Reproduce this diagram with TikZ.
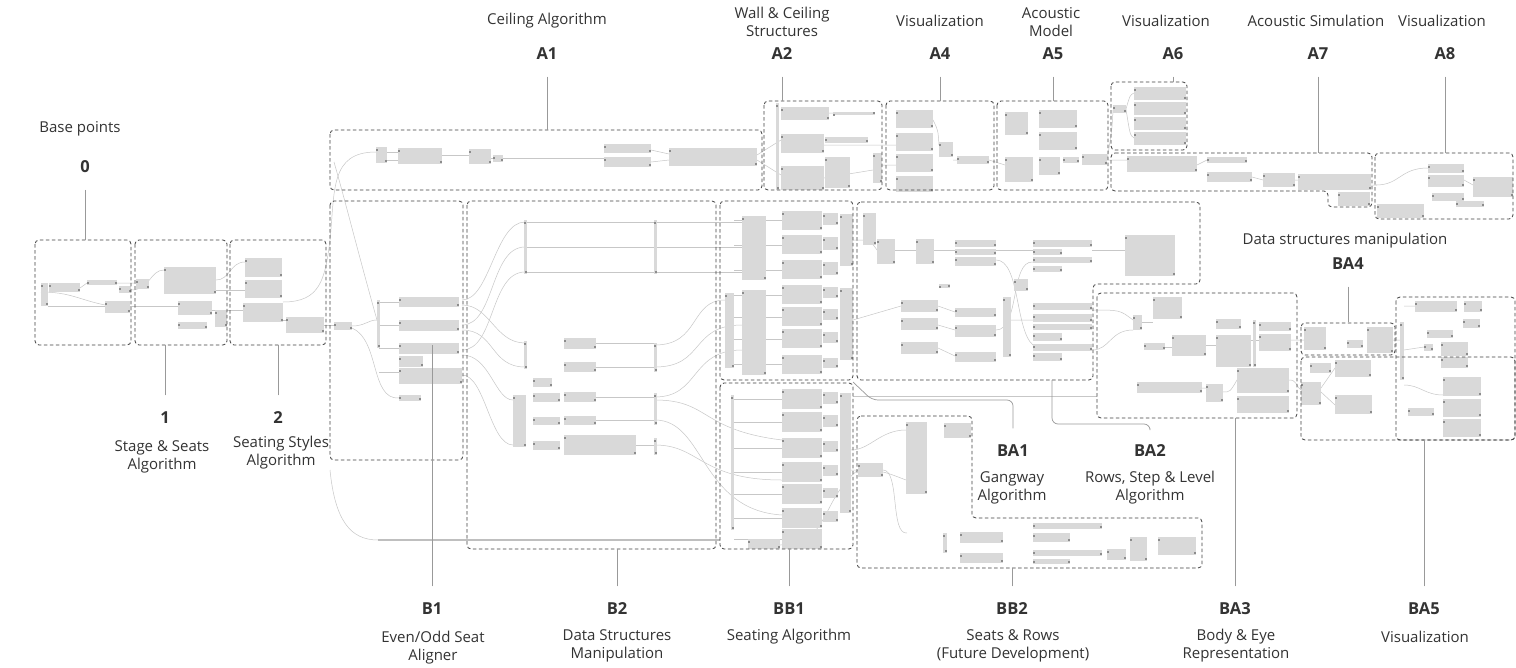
\documentclass[tikz,border=0pt]{standalone}
\usepackage{fontspec}
\setmainfont{Open Sans}
\usetikzlibrary{positioning}
\definecolor{ink}{HTML}{333333}
\definecolor{blockgray}{HTML}{D9D9D9}

\begin{document}
\begin{tikzpicture}[x=1pt,y=-1pt,
	grp/.style={draw=black!75,line width=0.8pt,dash pattern=on 3.5pt off 2.5pt,rounded corners=4pt},
	comp/.style={fill=blockgray},
	port/.style={fill=black!45},
	wire/.style={draw=black!22,line width=0.5pt},
	lead/.style={draw=black!40,line width=0.7pt},
	tag/.style={font=\fontsize{16.5}{18}\selectfont\bfseries,text=ink,inner xsep=0pt,inner ysep=16.5pt},
	note/.style={font=\fontsize{15}{18}\selectfont,text=ink,align=center,inner sep=0pt}]

	\fill[white] (0,0) rectangle (1516,667);
	\useasboundingbox (0,0) rectangle (1516,667);

	% wires
	\draw[wire] (41,292) .. controls (70,292) and (80,300) .. (105,305);
	\draw[wire] (48,306) -- (178,306);
	\draw[wire] (80,288) -- (87,283) (117,283) -- (136,283);
	\draw[wire] (131,290) .. controls (150,290) and (150,270) .. (164,270);
	\draw[wire] (216,280) .. controls (230,280) and (230,262) .. (245,262);
	\draw[wire] (216,290) -- (245,290) (212,310) -- (243,310) (283,320) -- (286,320) (324,325) -- (334,325);
	\draw[wire] (283,302) .. controls (320,302) and (325,280) .. (330,240) .. controls (335,190) and (330,152) .. (376,152);
	\draw[wire] (334,162) .. controls (345,200) and (360,260) .. (377,320);
	\draw[wire] (352,326) .. controls (365,326) and (368,320) .. (377,320);
	\draw[wire] (352,328) .. controls (380,340) and (370,400) .. (399,398);
	\draw[wire] (379,302) -- (399,302) (379,325) -- (399,325) (379,348) -- (399,348) (379,372) -- (399,372);
	\draw[wire] (387,152) -- (398,152) (387,160) -- (398,160) (442,155) -- (469,155) (491,158) -- (604,158);
	\draw[wire] (651,150) -- (669,154) (651,162) -- (669,160) (757,155) -- (781,140) (757,160) -- (781,175);
	\draw[wire] (829,113) -- (833,113) (824,145) -- (896,145) (824,178) -- (873,170) (882,165) -- (896,165);
	\draw[wire] (933,120) .. controls (938,130) .. (939,145) (953,160) -- (957,160) (989,160) -- (1005,165);
	\draw[wire] (1107,160) -- (1127,160) (1107,160) .. controls (1112,130) .. (1113,110);
	\draw[wire] (1126,109) .. controls (1130,95) .. (1134,93) (1126,109) .. controls (1130,135) .. (1134,138);
	\draw[wire] (1197,165) -- (1207,160) (1252,177) -- (1263,180) (1295,180) -- (1298,180) (1371,185) -- (1377,185);
	\draw[wire] (1376,185) .. controls (1400,185) and (1400,168) .. (1428,168) (1464,180) -- (1473,185);
	\draw[wire] (462,300) .. controls (490,300) and (495,222) .. (525,222);
	\draw[wire] (462,325) .. controls (495,325) and (490,247) .. (525,247);
	\draw[wire] (462,350) .. controls (495,350) and (490,272) .. (525,272);
	\draw[wire] (462,305) .. controls (490,305) and (495,343) .. (525,343);
	\draw[wire] (462,330) .. controls (495,330) and (490,367) .. (525,367);
	\draw[wire] (462,355) .. controls (490,355) and (495,400) .. (513,400);
	\draw[wire] (462,375) .. controls (485,375) and (490,445) .. (513,445);
	\draw[wire] (525,222) -- (742,222) (525,247) -- (742,247) (525,272) -- (742,272);
	\draw[wire] (596,343) -- (655,343) (596,367) -- (655,367) (596,397) -- (655,397) (596,420) -- (655,420) (636,445) -- (655,445);
	\draw[wire] (655,345) .. controls (700,345) and (690,300) .. (725,300);
	\draw[wire] (655,367) .. controls (705,367) and (690,325) .. (742,325);
	\draw[wire] (655,397) .. controls (700,397) and (690,350) .. (742,350);
	\draw[wire] (655,445) .. controls (700,445) and (700,480) .. (782,480);
	\draw[wire] (655,400) .. controls (710,400) and (700,430) .. (782,440);
	\draw[wire] (655,420) .. controls (705,420) and (700,510) .. (782,515);
	\draw[wire] (330,470) .. controls (335,520) and (350,540) .. (378,540);
	\draw[black!25,line width=2pt] (378,540) -- (720,540);
	\foreach \y in {220,245,270,295,317,339,364,399,422,448,472,494,518,539}
		\draw[wire] (734,\y) -- (782,\y);
	\draw[wire] (853,240) .. controls (870,240) .. (877,250) (853,320) -- (901,306);
	\draw[wire] (851,450) .. controls (870,450) and (880,430) .. (906,430);
	\draw[wire] (851,470) .. controls (880,470) .. (906,480);
	\draw[wire] (883,470) .. controls (900,470) and (890,535) .. (907,533);
	\draw[wire] (780,545) .. controls (830,545) and (820,500) .. (858,470);
	\draw[wire] (853,396) -- (1097,396);
	\draw[wire] (895,250) -- (916,250) (934,250) -- (955,250) (996,250) -- (1033,250) (1092,250) -- (1125,250);
	\draw[wire] (938,306) -- (955,312) (938,325) -- (955,330) (938,348) -- (955,356) (1011,320) -- (1033,320);
	\draw[wire] (996,260) .. controls (1020,260) and (1015,330) .. (1033,345);
	\draw[wire] (996,330) .. controls (1020,330) and (1010,260) .. (1033,262);
	\draw[wire] (1092,350) .. controls (1110,350) and (1110,330) .. (1133,330);
	\draw[wire] (1092,310) .. controls (1120,310) .. (1133,320);
	\draw[wire] (1142,322) -- (1153,322) (1165,347) -- (1172,347) (1206,345) -- (1216,345) (1251,340) -- (1259,340);
	\draw[wire] (1202,388) -- (1206,388) (1223,392) .. controls (1230,392) .. (1237,380);
	\draw[wire] (1289,380) .. controls (1297,380) and (1295,385) .. (1301,390) (1291,340) -- (1304,340);
	\draw[wire] (1393,340) -- (1400,340) (1404,306) -- (1415,306) (1404,350) -- (1424,347);
	\draw[wire] (1404,385) .. controls (1420,385) and (1425,395) .. (1443,395);
	\draw[wire] (1321,392) -- (1335,405) (1321,388) -- (1335,368);

	% components
	\foreach \a/\b/\c/\d in {
		41/283/48/306, 49/283/80/292, 87/280/117/285, 105/301/130/313, 119/286/131/293,
		136/279/149/289, 164/267/216/294, 178/301/212/315, 178/322/207/329, 215/310/227/327,
		245/258/282/277, 245/280/282/298, 243/303/283/322, 286/317/324/333, 334/322/352/330,
		399/297/459/307, 399/320/459/331, 399/343/459/354, 399/356/423/367, 399/368/462/384, 399/395/421/401, 377/300/380/348,
		376/147/387/163, 398/148/442/164, 469/149/491/164, 493/155/503/162, 604/144/651/153, 604/157/651/167, 669/148/757/166,
		781/107/829/120, 833/112/875/115, 781/134/824/153, 781/166/824/190, 825/137/868/143, 825/157/850/188, 873/153/882/183, 776/103/779/190,
		896/110/933/128, 896/133/933/151, 896/154/933/172, 896/176/933/192, 939/142/953/157, 957/156/989/164,
		1005/112/1028/135, 1039/110/1077/128, 1039/132/1077/150, 1005/157/1033/182, 1039/157/1060/175, 1063/157/1079/163, 1082/154/1107/165,
		1134/87/1186/100, 1134/102/1186/115, 1134/117/1186/130, 1134/132/1186/145, 1113/105/1126/113,
		1127/156/1197/172, 1207/157/1247/163, 1207/172/1252/182, 1263/173/1295/187, 1298/174/1371/190, 1338/192/1370/206,
		1428/164/1464/173, 1428/175/1464/187, 1432/193/1464/201, 1473/177/1513/197, 1377/204/1424/218, 1456/201/1484/207,
		564/338/596/349, 564/362/596/372, 533/378/552/387, 513/395/526/447, 533/393/560/402, 533/417/560/425, 533/441/560/450,
		564/392/596/402, 564/416/596/425, 564/435/636/455, 524/220/527/274, 654/220/657/274, 524/341/527/369,
		654/343/657/372, 654/393/657/425, 654/438/657/455,
		742/216/766/280, 742/290/766/375, 725/293/734/368, 782/211/822/230, 782/235/822/254, 782/260/822/279,
		782/285/822/304, 782/307/822/326, 782/329/822/348, 782/355/822/374, 823/213/838/225, 823/237/838/250,
		823/262/838/275, 823/287/838/298, 823/309/838/320, 823/332/838/343, 823/358/838/368, 840/214/853/266, 840/288/853/360,
		782/389/822/409, 782/412/822/432, 782/438/822/458, 782/462/822/482, 782/484/822/504, 782/508/822/528, 782/529/822/549,
		823/392/838/404, 823/415/838/427, 823/441/838/452, 823/465/838/476, 823/488/838/498, 823/511/838/522,
		840/393/851/513, 748/539/780/549, 731/395/734/530,
		863/213/876/245, 877/239/895/264, 916/239/934/264, 955/240/996/247, 955/249/996/255, 955/257/996/266,
		1033/240/1092/247, 1033/249/1062/255, 1033/257/1092/263, 1033/266/1062/272, 1125/235/1175/276,
		901/300/938/312, 901/318/938/330, 901/342/938/354, 955/308/996/317, 955/325/996/337, 955/352/996/362,
		1003/297/1011/357, 1033/303/1092/310, 1033/314/1092/322, 1033/324/1092/330, 1033/333/1062/341,
		1033/344/1092/351, 1033/353/1062/361, 1014/279/1028/291, 939/284/950/288,
		906/422/927/494, 944/423/971/438, 858/463/883/477, 960/532/1003/543, 960/553/1003/563, 1033/523/1102/529,
		1033/533/1070/542, 1033/550/1102/556, 1033/559/1070/564, 1130/537/1147/561, 1158/537/1196/555, 1107/549/1126/560, 943/533/947/553,
		1153/297/1182/319, 1133/315/1142/330, 1144/343/1165/350, 1172/335/1206/356, 1216/319/1241/329, 1216/335/1251/367,
		1259/322/1291/331, 1259/334/1291/351, 1137/382/1202/393, 1206/384/1223/402, 1237/368/1289/393, 1237/396/1289/413, 1253/320/1256/367,
		1304/327/1326/350, 1367/327/1393/353, 1347/340/1363/348,
		1301/382/1321/405, 1310/363/1331/373, 1335/360/1371/377, 1335/395/1372/414,
		1415/301/1457/312, 1464/301/1482/312, 1463/319/1480/328, 1427/330/1453/338, 1424/344/1433/351, 1441/342/1468/356,
		1441/357/1468/368, 1443/377/1481/396, 1443/399/1481/417, 1443/419/1481/437, 1408/408/1434/416, 1400/322/1404/380}
	{
		\fill[comp] (\a,\b) rectangle (\c,\d);
		\fill[port] (\a,\b+1.5) rectangle ++(2,2);
		\fill[port] (\c-2,\d-3.5) rectangle ++(2,2);
	}

	% groups
	\draw[grp] (35,240) rectangle (131,345);
	\draw[grp] (135,240) rectangle (227,345);
	\draw[grp] (230,240) rectangle (326,345);
	\draw[grp] (330,130) rectangle (762,190);
	\draw[grp] (764,101) rectangle (882,190);
	\draw[grp] (886,101) rectangle (994,190);
	\draw[grp] (997,101) rectangle (1108,190);
	\draw[grp] (1111,82) rectangle (1187,150);
	\draw[grp] (1111,153) -- (1372,153) -- (1372,207) -- (1328,207) -- (1328,191) -- (1111,191) -- cycle;
	\draw[grp] (1375,153) rectangle (1513,219);
	\draw[grp] (330,201) rectangle (463,460);
	\draw[grp] (467,201) rectangle (716,549);
	\draw[grp] (720,201) rectangle (853,380);
	\draw[grp] (720,383) rectangle (853,549);
	\draw[grp] (857,202) -- (1200,202) -- (1200,284) -- (1093,284) -- (1093,380) -- (857,380) -- cycle;
	\draw[grp] (857,416) -- (972,416) -- (972,518) -- (1202,518) -- (1202,568) -- (857,568) -- cycle;
	\draw[grp] (1097,293) rectangle (1297,418);
	\draw[grp] (1301,323) rectangle (1395,355);
	\draw[grp] (1301,357) rectangle (1515,440);
	\draw[grp] (1396,297) rectangle (1515,440);

	% anchor points on the groups
	\coordinate (p0) at (85,240);
	\coordinate (p1) at (165,345);
	\coordinate (p2) at (278,345);
	\coordinate (pA1) at (547,130);
	\coordinate (pA2) at (782,101);
	\coordinate (pA4) at (940,101);
	\coordinate (pA5) at (1053,101);
	\coordinate (pA6) at (1173,82);
	\coordinate (pA7) at (1318,153);
	\coordinate (pA8) at (1445,153);
	\coordinate (pBA4) at (1348,322);
	\coordinate (pB1) at (432,345);
	\coordinate (pB2) at (617,549);
	\coordinate (pBB1) at (789,549);
	\coordinate (pBB2) at (1012,568);
	\coordinate (pBA1) at (853,382);
	\coordinate (pBA2) at (1052,380);
	\coordinate (pBA3) at (1235,418);
	\coordinate (pBA5) at (1424,440);

	% top labels
	\node[note] (n0) at (80,129) {Base points};
	\node[tag] (t0) at (85,167) {0};
	\node[note] (nA1) at (547,21) {Ceiling Algorithm};
	\node[tag] (tA1) at (547,54) {A1};
	\node[note] (nA2) at (782,22) {Wall \& Ceiling\\Structures};
	\node[tag] (tA2) at (782,54) {A2};
	\node[note] (nA4) at (940,21) {Visualization};
	\node[tag] (tA4) at (940,54) {A4};
	\node[note] (nA5) at (1051,22) {Acoustic\\Model};
	\node[tag] (tA5) at (1053,54) {A5};
	\node[note] (nA6) at (1166,21) {Visualization};
	\node[tag] (tA6) at (1173,54) {A6};
	\node[note] (nA7) at (1316,21) {Acoustic Simulation};
	\node[tag] (tA7) at (1318,54) {A7};
	\node[note] (nA8) at (1442,21) {Visualization};
	\node[tag] (tA8) at (1445,54) {A8};
	\node[note] (nBA4) at (1345,241) {Data structures manipulation};
	\node[tag] (tBA4) at (1348,264) {BA4};

	% bottom labels
	\node[tag] (t1) at (165,418) {1};
	\node[note] (n1) at (162,457) {Stage \& Seats\\Algorithm};
	\node[tag] (t2) at (278,418) {2};
	\node[note] (n2) at (281,453) {Seating Styles\\Algorithm};
	\node[tag] (tBA1) at (1013,451) {BA1};
	\node[note] (nBA1) at (1012,488) {Gangway\\Algorithm};
	\node[tag] (tBA2) at (1150,451) {BA2};
	\node[note] (nBA2) at (1150,488) {Rows, Step \& Level\\Algorithm};
	\node[tag] (tB1) at (432,609) {B1};
	\node[note] (nB1) at (433,648) {Even/Odd Seat\\Aligner};
	\node[tag] (tB2) at (617,609) {B2};
	\node[note] (nB2) at (617,646) {Data Structures\\Manipulation};
	\node[tag] (tBB1) at (789,609) {BB1};
	\node[note] (nBB1) at (789,637) {Seating Algorithm};
	\node[tag] (tBB2) at (1012,609) {BB2};
	\node[note] (nBB2) at (1013,646) {Seats \& Rows\\(Future Development)};
	\node[tag] (tBA3) at (1235,609) {BA3};
	\node[note] (nBA3) at (1236,646) {Body \& Eye\\Representation};
	\node[tag] (tBA5) at (1424,609) {BA5};
	\node[note] (nBA5) at (1425,637) {Visualization};

	% leaders
	\foreach \k in {0,A1,A2,A4,A5,A6,A7,A8,BA4,1,2,B1,B2,BB1,BB2,BA3,BA5}
		\draw[lead] (t\k) -- (p\k);
	\draw[lead,rounded corners=6pt] (pBA1) -- (872,400) -- (1013,400) -- (tBA1);
	\draw[lead,rounded corners=6pt] (pBA2) -- (1052,424) -- (1150,424) -- (tBA2);

\end{tikzpicture}
\end{document}
